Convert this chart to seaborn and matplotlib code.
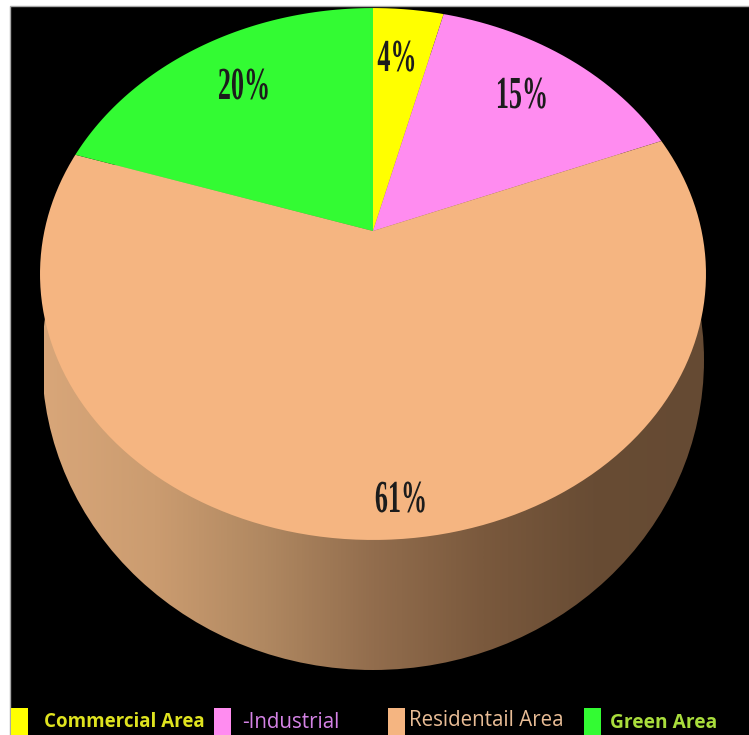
import numpy as np
import matplotlib
matplotlib.use("Agg")
import matplotlib.pyplot as plt
import seaborn as sns
from matplotlib.colors import LinearSegmentedColormap
from matplotlib.patches import Ellipse, Rectangle
from matplotlib.path import Path
from matplotlib.patheffects import AbstractPathEffect
from matplotlib.transforms import Affine2D, Transform

categories = ["Commercial Area", "-Industrial", "Residentail Area", "Green Area"]
shares = [4, 15, 61, 20]
share_labels = ["4%", "15%", "61%", "20%"]
slice_colors = ["#ffff00", "#ff8cf0", "#f5b581", "#33fb33"]
text_colors = ["#dfe31f", "#d583e6", "#e9bd96", "#a9dd3c"]
wall_colors = ["#d8a679", "#cb9c70", "#b08861", "#926d4d", "#7a593d", "#684c34", "#654a33"]
label_xy = [(397, 60), (522, 97), (401, 501), (244, 88)]
swatch_x = [11, 214, 388, 584]
legend_text_x = [44, 242, 409, 610]
legend_text_y = [722, 723, 721, 723]
legend_weight = ["bold", "normal", "normal", "bold"]
legend_size = [13.5, 14.8, 14.8, 13.8]


class Tilt(Transform):
    """Perspective view of a unit-circle pie, in picture pixels."""
    input_dims = 2
    output_dims = 2

    def transform_non_affine(self, values):
        v = np.asarray(values, float)
        d = 1 + 0.1617 * v[:, 1]
        return np.column_stack([373 + 328.6 * v[:, 0] / d, 231 - 259 * v[:, 1] / d])

    def transform_path_non_affine(self, path):
        poly = Affine2D().scale(1000).transform_path(path).to_polygons(closed_only=True)[0] / 1000
        return Path(self.transform_non_affine(poly))


class Squeeze(AbstractPathEffect):
    """Narrows a text horizontally about its own centre (condensed lettering)."""
    def __init__(self, sx, cx):
        super().__init__()
        self.sx, self.cx = sx, cx

    def draw_path(self, renderer, gc, tpath, affine, rgbFace=None):
        squeeze = Affine2D().translate(-self.cx, 0).scale(self.sx, 1).translate(self.cx, 0)
        renderer.draw_path(gc, tpath, affine + squeeze, rgbFace)


sns.set_theme(style="white")
fig = plt.figure(figsize=(7.49, 7.35), dpi=100, facecolor="white")
ax = fig.add_axes([0, 0, 1, 1])

wedges, _ = ax.pie(shares, colors=slice_colors, startangle=90, counterclock=False,
                   radius=1, wedgeprops={"linewidth": 0})
tilt = Tilt()
for w in wedges:
    w.set_transform(tilt + ax.transData)
    w.set_zorder(3)

ax.set_aspect("auto")
ax.set_xlim(0, 749)
ax.set_ylim(735, 0)
ax.axis("off")

ax.add_patch(Rectangle((10, 6), 745, 735, facecolor="black", edgecolor="#a8a8a8", lw=1, zorder=0))

wall_cmap = LinearSegmentedColormap.from_list("wall", wall_colors)
grad = ax.imshow(np.linspace(0, 1, 512)[None, :], cmap=wall_cmap, aspect="auto",
                 extent=(44, 704, 680, 40), zorder=1)
wall_clip = Ellipse((373, 360), 662, 620, transform=ax.transData, facecolor="none", edgecolor="none")
ax.add_patch(wall_clip)
grad.set_clip_path(wall_clip)
ax.set_xlim(0, 749)
ax.set_ylim(735, 0)

for lab, (x, y) in zip(share_labels, label_xy):
    ax.text(x, y, lab, family="Liberation Serif", weight="bold", fontsize=33, color="#1c1c1c",
            ha="center", va="center", zorder=4, path_effects=[Squeeze(0.57, x)])

for name, sx, tx, ty, fc, tc, wt, fs in zip(categories, swatch_x, legend_text_x, legend_text_y,
                                            slice_colors, text_colors, legend_weight, legend_size):
    ax.add_patch(Rectangle((sx, 708), 17, 27, facecolor=fc, edgecolor="none", zorder=2))
    ax.text(tx, ty, name, family="Open Sans", weight=wt, fontsize=fs, color=tc,
            ha="left", va="center", zorder=4)

fig.savefig("out.png", dpi=100, facecolor="white")
